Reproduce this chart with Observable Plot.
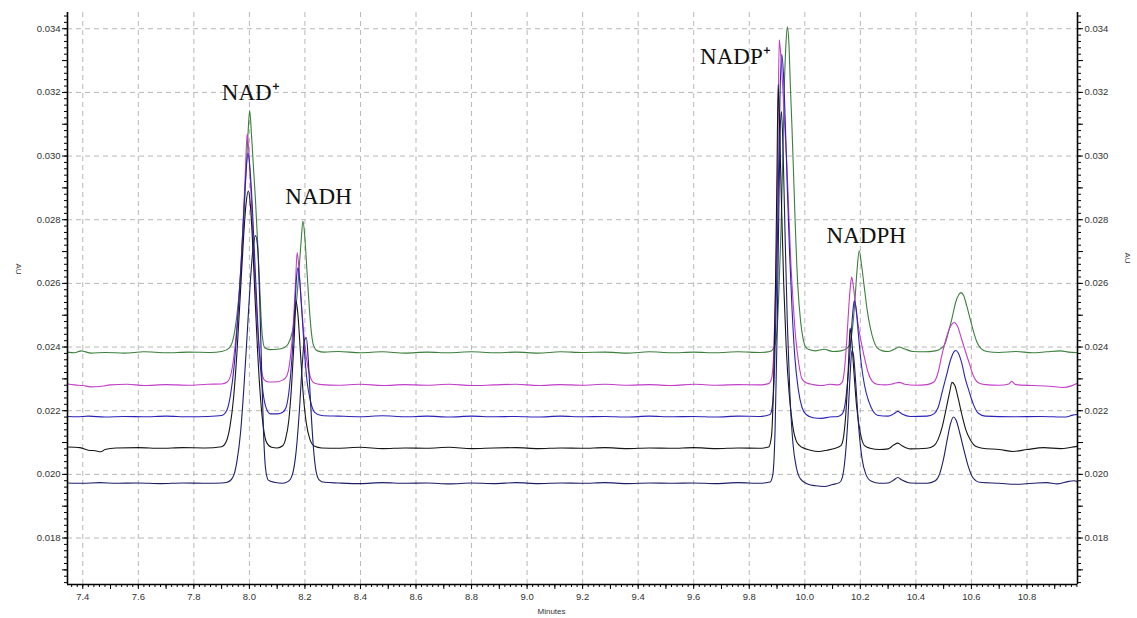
<!DOCTYPE html>
<html>
<head>
<meta charset="utf-8">
<script src="https://cdn.jsdelivr.net/npm/d3@7"></script>
<script src="https://cdn.jsdelivr.net/npm/@observablehq/plot@0.6"></script>
<style>
  html, body { margin: 0; padding: 0; background: #fff; }
  #chart svg { display: block; }
</style>
</head>
<body>
<div id="chart"></div>
<script>
// Retention time (min) and absorbance (AU) samples for five stacked runs.
const traceGreen = [
  [7.345,0.02384],[7.37,0.02382],[7.395,0.02388],[7.405,0.02386],[7.43,0.02381],[7.48,0.02383],[7.55,0.02381],[7.62,0.02385],[7.70,0.02382],[7.78,0.02384],[7.86,0.02383],[7.90,0.02386],
  [7.925,0.02395],[7.94,0.0242],[7.955,0.0250],[7.968,0.0262],[7.978,0.0277],[7.988,0.0295],[7.995,0.0307],[8.001,0.03143],[8.008,0.0306],[8.015,0.0296],[8.022,0.0286],[8.034,0.0265],[8.046,0.0244],[8.055,0.02398],[8.075,0.02392],[8.10,0.02393],[8.125,0.02398],
  [8.14,0.0241],[8.155,0.0245],[8.167,0.0252],[8.177,0.0262],[8.186,0.0273],[8.193,0.02796],[8.20,0.0274],[8.208,0.0263],[8.216,0.0252],[8.224,0.0244],[8.232,0.02402],[8.245,0.02388],[8.27,0.02384],
  [8.32,0.02386],[8.40,0.02382],[8.48,0.02385],[8.56,0.02381],[8.64,0.02384],[8.72,0.02382],[8.80,0.02385],[8.88,0.02382],[8.96,0.02384],[9.04,0.02381],[9.12,0.02385],[9.20,0.02383],[9.28,0.02384],[9.36,0.02381],[9.44,0.02385],[9.52,0.02382],[9.60,0.02384],[9.68,0.02382],[9.76,0.02385],[9.84,0.02383],[9.875,0.02386],
  [9.89,0.0240],[9.90,0.0245],[9.907,0.0258],[9.914,0.0276],[9.92,0.0296],[9.926,0.0321],[9.932,0.0335],[9.937,0.03406],[9.943,0.0335],[9.948,0.0322],[9.953,0.0311],[9.959,0.0296],[9.965,0.0280],[9.975,0.0259],[9.985,0.0248],[9.993,0.0243],[10.003,0.0240],[10.015,0.02392],[10.04,0.02388],[10.07,0.02393],[10.10,0.02386],[10.13,0.02388],
  [10.15,0.02395],[10.163,0.0241],[10.172,0.0246],[10.18,0.0254],[10.188,0.0264],[10.196,0.02702],[10.204,0.0266],[10.214,0.0259],[10.224,0.0252],[10.236,0.0246],[10.248,0.0242],[10.26,0.02398],[10.28,0.02388],
  [10.30,0.02386],[10.32,0.02392],[10.34,0.02400],[10.36,0.02394],[10.39,0.02386],[10.43,0.02385],[10.47,0.02388],
  [10.49,0.02395],[10.505,0.0241],[10.518,0.0245],[10.53,0.0249],[10.543,0.0254],[10.555,0.02565],[10.562,0.02571],[10.572,0.02562],[10.583,0.0253],[10.595,0.0249],[10.607,0.0245],[10.62,0.02415],[10.635,0.02395],[10.655,0.02386],
  [10.70,0.02383],[10.76,0.02386],[10.82,0.02382],[10.87,0.02385],[10.92,0.02388],[10.95,0.02384],[10.982,0.02382]
];

const traceMagenta = [
  [7.345,0.02284],[7.37,0.02281],[7.40,0.02279],[7.43,0.02275],[7.46,0.02276],[7.50,0.02281],[7.56,0.02283],[7.62,0.02279],[7.70,0.02282],[7.78,0.02280],[7.85,0.02283],[7.90,0.02284],
  [7.92,0.0229],[7.935,0.0232],[7.948,0.0240],[7.96,0.0252],[7.97,0.0266],[7.978,0.0280],[7.985,0.0294],[7.992,0.0307],[7.999,0.0300],[8.006,0.0288],[8.014,0.0272],[8.023,0.0256],[8.033,0.0242],[8.043,0.0233],[8.053,0.02298],[8.07,0.0229],[8.10,0.02291],[8.12,0.02296],
  [8.135,0.0231],[8.148,0.0237],[8.158,0.0247],[8.166,0.0260],[8.172,0.02697],[8.179,0.0264],[8.187,0.0254],[8.196,0.0244],[8.206,0.0236],[8.218,0.0231],[8.232,0.02288],[8.26,0.02282],
  [8.32,0.02280],[8.40,0.02283],[8.48,0.02279],[8.56,0.02282],[8.64,0.02280],[8.72,0.02283],[8.80,0.02279],[8.88,0.02281],[8.96,0.02283],[9.04,0.02279],[9.12,0.02282],[9.20,0.02280],[9.28,0.02283],[9.36,0.02280],[9.44,0.02282],[9.52,0.02279],[9.60,0.02283],[9.68,0.02280],[9.76,0.02282],[9.84,0.02281],[9.87,0.02285],
  [9.88,0.0230],[9.888,0.0238],[9.894,0.0255],[9.90,0.0280],[9.904,0.0310],[9.908,0.03365],[9.914,0.0331],[9.921,0.0321],[9.928,0.0309],[9.935,0.0298],[9.942,0.0283],[9.949,0.0268],[9.958,0.0254],[9.967,0.0243],[9.978,0.0235],[9.99,0.0230],[10.005,0.02288],[10.03,0.02282],[10.06,0.02279],[10.09,0.02283],[10.12,0.02281],
  [10.135,0.0229],[10.143,0.0233],[10.151,0.0242],[10.158,0.0252],[10.164,0.0259],[10.169,0.0262],[10.175,0.0259],[10.183,0.0253],[10.192,0.0247],[10.202,0.0242],[10.214,0.0237],[10.228,0.0232],[10.243,0.02292],[10.26,0.02283],
  [10.29,0.02281],[10.32,0.02285],[10.34,0.02289],[10.36,0.02283],[10.40,0.02280],[10.44,0.02282],
  [10.465,0.0229],[10.48,0.0232],[10.495,0.0238],[10.51,0.0243],[10.525,0.02465],[10.538,0.02477],[10.55,0.02465],[10.563,0.0243],[10.577,0.0239],[10.592,0.0235],[10.607,0.0231],[10.625,0.02288],[10.65,0.02282],
  [10.70,0.02280],[10.735,0.02284],[10.745,0.02292],[10.76,0.02282],[10.82,0.02279],[10.88,0.02277],[10.93,0.02273],[10.96,0.02278],[10.982,0.02286]
];

const traceBlue = [
  [7.345,0.02182],[7.38,0.02181],[7.42,0.02183],[7.48,0.02180],[7.55,0.02182],[7.62,0.02181],[7.70,0.02183],[7.78,0.02181],[7.85,0.02182],[7.90,0.02185],
  [7.918,0.0220],[7.932,0.0225],[7.945,0.0234],[7.958,0.0249],[7.97,0.0266],[7.98,0.0283],[7.988,0.0295],[7.995,0.0301],[8.002,0.0296],[8.01,0.0285],[8.018,0.0270],[8.027,0.0253],[8.036,0.0238],[8.046,0.0228],[8.058,0.02215],[8.075,0.0219],[8.10,0.0219],[8.12,0.02195],
  [8.132,0.0221],[8.145,0.0228],[8.155,0.0239],[8.164,0.0253],[8.17,0.0262],[8.175,0.0265],[8.181,0.0261],[8.189,0.0251],[8.198,0.0239],[8.208,0.0229],[8.22,0.0223],[8.235,0.02195],[8.26,0.02185],
  [8.32,0.02183],[8.40,0.02181],[8.48,0.02184],[8.56,0.02181],[8.64,0.02183],[8.72,0.02180],[8.80,0.02183],[8.88,0.02181],[8.96,0.02182],[9.04,0.02180],[9.12,0.02183],[9.20,0.02181],[9.28,0.02182],[9.36,0.02180],[9.44,0.02183],[9.52,0.02181],[9.60,0.02182],[9.68,0.02180],[9.76,0.02183],[9.84,0.02182],[9.875,0.02188],
  [9.884,0.0222],[9.892,0.0236],[9.899,0.0262],[9.905,0.0292],[9.911,0.0320],[9.917,0.0332],[9.923,0.0326],[9.93,0.0310],[9.937,0.0290],[9.945,0.0270],[9.954,0.0252],[9.964,0.0237],[9.976,0.0227],[9.99,0.0221],[10.005,0.02188],[10.03,0.02178],[10.06,0.02176],[10.09,0.0218],[10.12,0.02182],
  [10.135,0.0219],[10.145,0.0222],[10.155,0.0230],[10.164,0.0240],[10.172,0.0250],[10.178,0.02545],[10.185,0.0252],[10.193,0.0244],[10.203,0.0235],[10.215,0.0228],[10.23,0.0223],[10.245,0.0220],[10.265,0.02185],
  [10.30,0.02183],[10.32,0.0219],[10.335,0.02198],[10.35,0.0219],[10.38,0.02182],[10.44,0.02183],
  [10.465,0.0219],[10.48,0.0221],[10.495,0.0226],[10.51,0.0231],[10.525,0.0236],[10.537,0.02385],[10.544,0.02389],[10.552,0.02382],[10.565,0.0235],[10.578,0.0230],[10.592,0.0226],[10.607,0.0222],[10.625,0.02192],[10.65,0.02183],
  [10.75,0.02181],[10.85,0.02182],[10.94,0.0218],[10.965,0.02186],[10.982,0.02188]
];

const traceBlack = [
  [7.345,0.02086],[7.39,0.02084],[7.42,0.02076],[7.445,0.02074],[7.465,0.02071],[7.48,0.02078],[7.52,0.02083],[7.60,0.02084],[7.68,0.02082],[7.76,0.02084],[7.84,0.02083],[7.90,0.02087],
  [7.915,0.0210],[7.93,0.0215],[7.943,0.0224],[7.955,0.0238],[7.967,0.0256],[7.978,0.0273],[7.988,0.0285],[7.996,0.0289],[8.004,0.0284],[8.012,0.0272],[8.02,0.0256],[8.03,0.0238],[8.04,0.0224],[8.05,0.0215],[8.062,0.0210],[8.08,0.02085],[8.10,0.02083],[8.12,0.0209],
  [8.13,0.0211],[8.142,0.0217],[8.152,0.0228],[8.161,0.0242],[8.168,0.02545],[8.175,0.0250],[8.184,0.0238],[8.194,0.0225],[8.205,0.0216],[8.218,0.0211],[8.235,0.02088],[8.26,0.02083],
  [8.32,0.02082],[8.40,0.02085],[8.48,0.02081],[8.56,0.02083],[8.64,0.02082],[8.72,0.02085],[8.80,0.02081],[8.88,0.02083],[8.96,0.02084],[9.04,0.02081],[9.12,0.02083],[9.20,0.02082],[9.28,0.02084],[9.36,0.02081],[9.44,0.02083],[9.52,0.02082],[9.60,0.02084],[9.68,0.02081],[9.76,0.02083],[9.84,0.02082],[9.87,0.02086],
  [9.88,0.0212],[9.888,0.0230],[9.895,0.0262],[9.90,0.0296],[9.904,0.03225],[9.909,0.0310],[9.916,0.0285],[9.924,0.0260],[9.933,0.0240],[9.944,0.0225],[9.957,0.0215],[9.972,0.0210],[9.99,0.02085],[10.02,0.02076],[10.05,0.02072],[10.08,0.02076],[10.11,0.02082],
  [10.13,0.0209],[10.14,0.0212],[10.15,0.0222],[10.158,0.0236],[10.163,0.0246],[10.169,0.0242],[10.177,0.0232],[10.187,0.0221],[10.20,0.0213],[10.215,0.0209],[10.235,0.02082],[10.27,0.02078],
  [10.30,0.02080],[10.32,0.02092],[10.335,0.02098],[10.35,0.0209],[10.38,0.0208],[10.44,0.02082],
  [10.465,0.0209],[10.48,0.0211],[10.495,0.0215],[10.51,0.0221],[10.522,0.0226],[10.53,0.02289],[10.54,0.0228],[10.552,0.0224],[10.565,0.0219],[10.58,0.0214],[10.595,0.0211],[10.615,0.02088],[10.64,0.02082],
  [10.70,0.02078],[10.75,0.02072],[10.80,0.02078],[10.86,0.02084],[10.92,0.02081],[10.96,0.02085],[10.982,0.02088]
];

const traceNavy = [
  [7.345,0.01973],[7.40,0.01972],[7.46,0.01974],[7.52,0.01972],[7.60,0.01973],[7.68,0.01971],[7.76,0.01973],[7.84,0.01972],[7.90,0.01973],
  [7.92,0.01975],[7.94,0.0199],[7.955,0.0204],[7.968,0.0213],[7.98,0.0227],[7.992,0.0244],[8.003,0.0260],[8.013,0.0271],[8.022,0.0275],[8.03,0.0271],[8.037,0.0255],[8.044,0.0233],[8.051,0.0213],[8.058,0.0202],[8.068,0.01982],[8.09,0.01975],[8.12,0.01972],
  [8.14,0.01978],[8.155,0.0200],[8.168,0.0207],[8.18,0.0220],[8.19,0.0234],[8.198,0.0242],[8.205,0.0243],[8.212,0.0236],[8.22,0.0223],[8.23,0.0209],[8.24,0.0201],[8.252,0.01982],[8.27,0.01975],
  [8.32,0.01973],[8.40,0.01971],[8.48,0.01974],[8.56,0.01972],[8.64,0.01973],[8.72,0.01970],[8.80,0.01973],[8.88,0.01971],[8.96,0.01974],[9.04,0.01971],[9.12,0.01973],[9.20,0.01972],[9.28,0.01974],[9.36,0.01971],[9.44,0.01973],[9.52,0.01972],[9.60,0.01973],[9.68,0.01971],[9.76,0.01974],[9.84,0.01972],[9.875,0.01976],
  [9.885,0.0200],[9.893,0.0214],[9.90,0.0243],[9.906,0.0280],[9.911,0.0307],[9.916,0.0314],[9.922,0.0301],[9.929,0.0275],[9.937,0.0248],[9.946,0.0226],[9.957,0.0210],[9.97,0.0202],[9.985,0.01985],[10.01,0.0197],[10.04,0.01964],[10.07,0.01962],[10.10,0.01968],[10.125,0.01974],
  [10.135,0.0199],[10.145,0.0205],[10.155,0.0217],[10.163,0.0231],[10.17,0.0239],[10.176,0.0237],[10.184,0.0228],[10.194,0.0215],[10.206,0.0205],[10.22,0.0200],[10.24,0.01978],[10.27,0.01972],
  [10.30,0.01973],[10.32,0.01982],[10.335,0.0199],[10.35,0.01982],[10.38,0.01973],[10.44,0.01972],
  [10.47,0.0198],[10.485,0.0200],[10.50,0.0205],[10.513,0.0211],[10.525,0.0216],[10.535,0.0218],[10.545,0.0217],[10.558,0.0213],[10.572,0.0208],[10.587,0.0203],[10.605,0.0199],[10.63,0.01975],
  [10.70,0.01972],[10.76,0.01969],[10.82,0.01972],[10.87,0.01974],[10.91,0.01970],[10.95,0.01978],[10.97,0.0198],[10.982,0.01976]
];

// Run colours, drawn in this order.
const runs = [
  {name: "run 1", points: traceGreen, color: "#3b7f3b"},
  {name: "run 2", points: traceMagenta, color: "#c23ec8"},
  {name: "run 3", points: traceBlue, color: "#2a22b8"},
  {name: "run 4", points: traceBlack, color: "#161616"},
  {name: "run 5", points: traceNavy, color: "#1e1e68"}
];

// Peak names and the spot (min, AU) where each name sits.
const peakNames = ["NAD\u207A", "NADH", "NADP\u207A", "NADPH"];
const peakNameTimes = [8.005, 8.249, 9.75, 10.221];
const peakNameLevels = [0.03175, 0.02849, 0.0329, 0.02727];

// Axis extents and tick positions.
const timeDomain = [7.345, 10.982];
const auDomain = [0.01654, 0.03451];
const timeMajor = [7.4, 7.6, 7.8, 8.0, 8.2, 8.4, 8.6, 8.8, 9.0, 9.2, 9.4, 9.6, 9.8, 10.0, 10.2, 10.4, 10.6, 10.8];
const timeMid = [7.5, 7.7, 7.9, 8.1, 8.3, 8.5, 8.7, 8.9, 9.1, 9.3, 9.5, 9.7, 9.9, 10.1, 10.3, 10.5, 10.7, 10.9];
const auMajor = [0.018, 0.020, 0.022, 0.024, 0.026, 0.028, 0.030, 0.032, 0.034];
const auMid = [0.017, 0.019, 0.021, 0.023, 0.025, 0.027, 0.029, 0.031, 0.033];

// Minor ticks: every 0.02 min and every 0.0002 AU.
const timeMinor = d3.range(7.36, 10.981, 0.02).map(v => +v.toFixed(2));
const auMinor = d3.range(0.0166, 0.03451, 0.0002).map(v => +v.toFixed(4));

const rows = runs.flatMap(r => r.points.map(([t, v]) => ({run: r.name, t, v})));
const labelRows = peakNames.map((name, i) => ({name, t: peakNameTimes[i], v: peakNameLevels[i]}));

const tickFont = 9.5;
const blank = () => "";

const chart = Plot.plot({
  width: 1137,
  height: 618,
  marginLeft: 67,
  marginRight: 60,
  marginTop: 12,
  marginBottom: 34,
  style: {fontFamily: "'Liberation Sans', Arial, sans-serif", background: "#fff", color: "#222"},
  x: {domain: timeDomain},
  y: {domain: auDomain},
  color: {domain: runs.map(r => r.name), range: runs.map(r => r.color)},
  marks: [
    Plot.gridX(timeMajor, {stroke: "#b8b8b8", strokeOpacity: 1, strokeDasharray: "5,4", strokeWidth: 1}),
    Plot.gridY(auMajor, {stroke: "#b8b8b8", strokeOpacity: 1, strokeDasharray: "5,4", strokeWidth: 1}),

    Plot.axisX(timeMinor, {anchor: "bottom", tickSize: 3, tickFormat: blank, label: null, stroke: "#000"}),
    Plot.axisX(timeMid, {anchor: "bottom", tickSize: 5, tickFormat: blank, label: null, stroke: "#000"}),
    Plot.axisX(timeMajor, {anchor: "bottom", tickSize: 5, tickPadding: 4, tickFormat: d => d.toFixed(1), fontSize: tickFont, label: null, stroke: "#000", fill: "#333"}),

    Plot.axisY(auMinor, {anchor: "left", tickSize: 3, tickFormat: blank, label: null, stroke: "#000"}),
    Plot.axisY(auMid, {anchor: "left", tickSize: 5, tickFormat: blank, label: null, stroke: "#000"}),
    Plot.axisY(auMajor, {anchor: "left", tickSize: 5, tickPadding: 2, tickFormat: d => d.toFixed(3), fontSize: tickFont, label: null, stroke: "#000", fill: "#333"}),

    Plot.axisY(auMinor, {anchor: "right", tickSize: 3, tickFormat: blank, label: null, stroke: "#000"}),
    Plot.axisY(auMid, {anchor: "right", tickSize: 5, tickFormat: blank, label: null, stroke: "#000"}),
    Plot.axisY(auMajor, {anchor: "right", tickSize: 5, tickPadding: 2, tickFormat: d => d.toFixed(3), fontSize: tickFont, label: null, stroke: "#000", fill: "#333"}),

    Plot.line(rows, {x: "t", y: "v", z: "run", stroke: "run", strokeWidth: 1.1, curve: "monotone-x"}),

    Plot.ruleX([timeDomain[0], timeDomain[1]], {stroke: "#000", strokeWidth: 1.6}),
    Plot.ruleY([auDomain[0]], {stroke: "#000", strokeWidth: 1.6}),

    Plot.text(labelRows, {x: "t", y: "v", text: "name", textAnchor: "middle", lineAnchor: "bottom",
      fontSize: 23, fontFamily: "'Liberation Serif', 'Times New Roman', serif", fill: "#111"}),

    Plot.text(["Minutes"], {frameAnchor: "bottom", dx: -21, dy: 29, fontSize: 8, fill: "#333"}),
    Plot.text(["AU"], {frameAnchor: "left", dx: -49, dy: -35, rotate: 90, fontSize: 8, fill: "#333"}),
    Plot.text(["AU"], {frameAnchor: "right", dx: 50, dy: -35, rotate: 90, fontSize: 8, fill: "#333"})
  ]
});

document.getElementById("chart").appendChild(chart);
</script>
</body>
</html>
